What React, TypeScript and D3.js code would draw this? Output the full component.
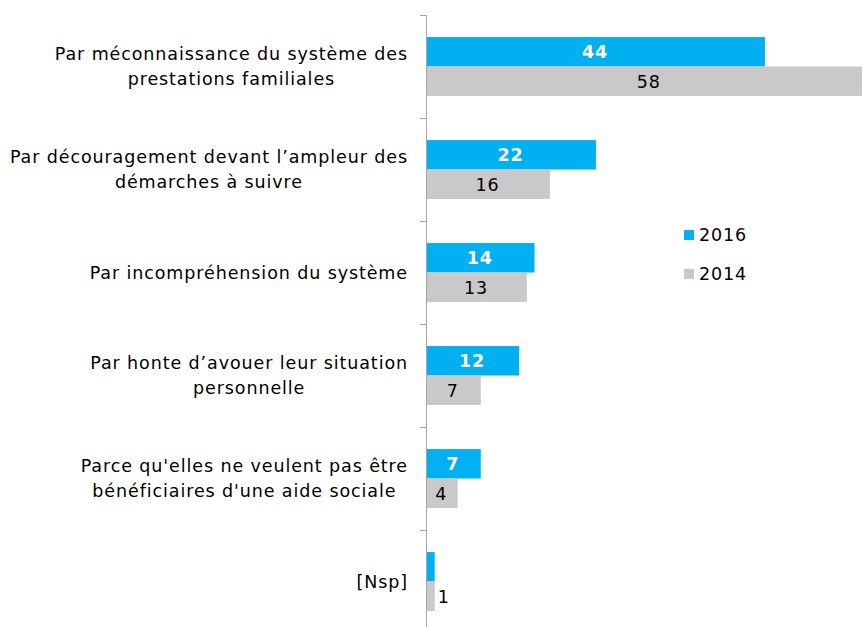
import React, { useEffect, useRef } from "react";
import * as d3 from "d3";

const categories = [
  ["Par méconnaissance du système des", "prestations familiales"],
  ["Par découragement devant l’ampleur des", "démarches à suivre"],
  ["Par incompréhension du système"],
  ["Par honte d’avouer leur situation", "personnelle"],
  ["Parce qu'elles ne veulent pas être", "bénéficiaires d'une aide sociale"],
  ["[Nsp]"],
];
const values2016 = [44, 22, 14, 12, 7, 1];
const values2014 = [58, 16, 13, 7, 4, 1];
const labels2016 = ["44", "22", "14", "12", "7", ""];
const labels2014 = ["58", "16", "13", "7", "4", "1"];
const seriesNames = ["2016", "2014"];

const BLUE = "#00B0F0";
const GREY = "#C9C9C9";
const FONT = "Verdana, 'DejaVu Sans', sans-serif";
const FS = 17.5;
const LS = "0.9px";

export default function App() {
  const ref = useRef<SVGSVGElement>(null);

  useEffect(() => {
    const svg = d3.select(ref.current);
    svg.selectAll("*").remove();

    const width = 862;
    const height = 627;
    const axisX = 426;

    const x = d3.scaleLinear().domain([0, 10]).range([axisX, axisX + 76.8]);
    const y = d3
      .scaleBand()
      .domain(categories.map((_, i) => String(i)))
      .range([15, 15 + 6 * 103])
      .paddingInner(0)
      .paddingOuter(0);
    const inner = d3
      .scaleBand()
      .domain(seriesNames)
      .range([0, y.bandwidth()])
      .paddingOuter(0.75)
      .paddingInner(0);

    // axis line + ticks
    const axis = svg.append("g").attr("stroke", "#A6A6A6").attr("stroke-width", 1);
    axis
      .append("line")
      .attr("x1", axisX + 0.5)
      .attr("x2", axisX + 0.5)
      .attr("y1", 15)
      .attr("y2", height);
    categories.forEach((_, i) => {
      const yy = Math.round(y(String(i))!) + 0.5;
      axis.append("line").attr("x1", axisX - 6).attr("x2", axisX).attr("y1", yy).attr("y2", yy);
    });

    const series = [
      { name: "2016", values: values2016, labels: labels2016, color: BLUE, text: "#fff", weight: "bold" },
      { name: "2014", values: values2014, labels: labels2014, color: GREY, text: "#000", weight: "normal" },
    ];

    series.forEach(s => {
      const g = svg.append("g");
      s.values.forEach((v, i) => {
        const y0 = y(String(i))! + inner(s.name)!;
        const w = x(v) - x(0);
        g.append("rect")
          .attr("x", x(0) + 1)
          .attr("y", y0)
          .attr("width", w)
          .attr("height", inner.bandwidth())
          .attr("fill", s.color);
        if (s.labels[i]) {
          const inside = w > 20;
          g.append("text")
            .attr("x", inside ? x(0) + w / 2 : x(v) + 10)
            .attr("y", y0 + inner.bandwidth() / 2)
            .attr("dy", "0.36em")
            .attr("text-anchor", "middle")
            .attr("font-family", FONT)
            .attr("font-size", FS)
            .attr("letter-spacing", LS)
            .attr("font-weight", s.weight)
            .attr("fill", inside ? s.text : "#000")
            .text(s.labels[i]);
        }
      });
    });

    // category labels: block right-aligned, lines centered
    const labelRight = 408;
    categories.forEach((lines, i) => {
      const cy = y(String(i))! + y.bandwidth() / 2;
      const t = svg
        .append("text")
        .attr("font-family", FONT)
        .attr("font-size", FS)
        .attr("letter-spacing", LS)
        .attr("fill", "#000")
        .attr("text-anchor", "middle");
      lines.forEach((line, j) => {
        t.append("tspan")
          .attr("y", cy + (j - (lines.length - 1) / 2) * 25)
          .attr("dy", "0.36em")
          .text(line);
      });
      let maxW = 0;
      t.selectAll<SVGTSpanElement, unknown>("tspan").each(function () {
        maxW = Math.max(maxW, this.getComputedTextLength());
      });
      t.selectAll("tspan").attr("x", labelRight - maxW / 2);
    });

    // legend
    const legend = svg.append("g").attr("transform", "translate(684,230)");
    series.forEach((s, i) => {
      const lg = legend.append("g").attr("transform", `translate(0,${i * 39})`);
      lg.append("rect").attr("width", 10).attr("height", 10).attr("fill", s.color);
      lg.append("text")
        .attr("x", 15)
        .attr("y", 5)
        .attr("dy", "0.36em")
        .attr("font-family", FONT)
        .attr("font-size", FS)
        .attr("letter-spacing", LS)
        .attr("fill", "#000")
        .text(s.name);
    });

    svg.attr("width", width).attr("height", height);
  }, []);

  return (
    <div style={{ position: "absolute", left: 0, top: 0 }}>
      <svg ref={ref} style={{ display: "block", overflow: "hidden" }}></svg>
    </div>
  );
}
